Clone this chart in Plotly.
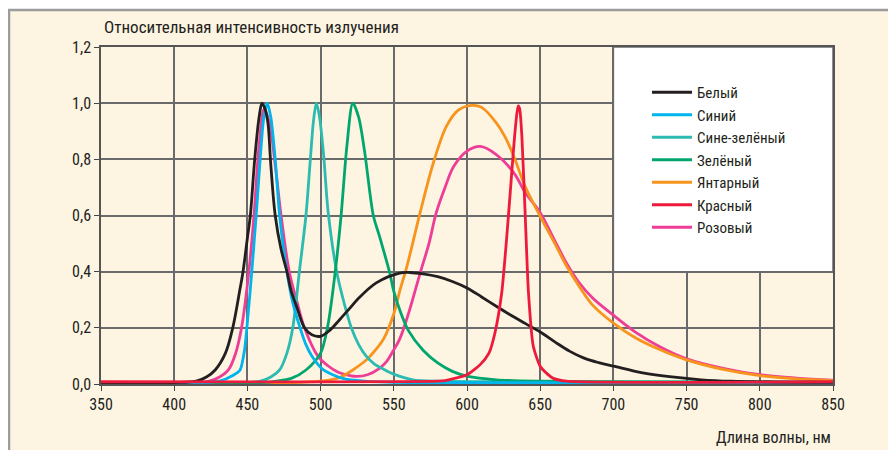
import plotly.graph_objects as go

# ---- data ----
names = ["Белый", "Синий", "Сине-зелёный", "Зелёный", "Янтарный", "Красный", "Розовый"]
colors = ["#231f20", "#00b4ec", "#2bbbb0", "#00a66e", "#f7941d", "#ed1a3b", "#ee3d96"]

white_x = [350, 400, 415, 422, 428, 435, 440, 445, 447, 450, 452, 455, 458, 460, 462, 464, 466, 469, 473, 477, 480, 484, 489, 494, 500, 506, 513, 520, 525, 538, 554, 561, 570, 580, 590, 600, 610, 620, 630, 640, 650, 660, 670, 680, 690, 700, 720, 740, 760, 780, 850]
white_y = [0.005, 0.005, 0.01, 0.025, 0.05, 0.11, 0.2, 0.34, 0.4, 0.52, 0.6, 0.8, 0.95, 1.0, 0.98, 0.93, 0.78, 0.6, 0.48, 0.4, 0.33, 0.27, 0.2, 0.175, 0.17, 0.19, 0.229, 0.27, 0.3, 0.36, 0.395, 0.397, 0.392, 0.382, 0.365, 0.342, 0.31, 0.277, 0.245, 0.215, 0.185, 0.15, 0.117, 0.092, 0.076, 0.064, 0.04, 0.025, 0.015, 0.01, 0.006]

blue_x = [350, 420, 431, 440, 445, 448, 450, 453, 456, 459, 461, 463.5, 466, 469, 472, 477, 481, 486, 490, 494, 502, 515, 530, 560, 850]
blue_y = [0.005, 0.005, 0.01, 0.03, 0.05, 0.12, 0.22, 0.4, 0.6, 0.82, 0.94, 1.0, 0.95, 0.8, 0.6, 0.4, 0.29, 0.2, 0.14, 0.1, 0.05, 0.02, 0.01, 0.005, 0.005]

teal_x = [350, 450, 459, 466, 472, 477, 481, 485.5, 490, 493, 495, 497, 499, 502, 505, 511, 516, 521, 526, 531, 537, 544, 550, 563, 580, 700, 850]
teal_y = [0.005, 0.005, 0.01, 0.025, 0.05, 0.11, 0.2, 0.4, 0.6, 0.8, 0.93, 1.0, 0.96, 0.82, 0.62, 0.4, 0.29, 0.2, 0.14, 0.1, 0.07, 0.05, 0.035, 0.015, 0.01, 0.007, 0.006]

green_x = [350, 460, 470, 480, 490, 500, 505, 510, 514, 518, 522, 526, 530, 536, 540, 547, 550, 555, 560, 570, 580, 590, 600, 620, 650, 700, 850]
green_y = [0.005, 0.005, 0.01, 0.02, 0.05, 0.11, 0.21, 0.4, 0.6, 0.85, 1.0, 0.95, 0.83, 0.6, 0.53, 0.4, 0.33, 0.25, 0.19, 0.12, 0.075, 0.045, 0.028, 0.015, 0.01, 0.008, 0.006]

amber_x = [350, 480, 500, 510, 515, 522, 530, 534, 543, 550, 554, 559, 568, 577, 586, 594, 600, 605, 610, 620, 626, 632, 640, 650, 660, 668, 677, 686, 700, 715, 732, 750, 775, 800, 825, 850]
amber_y = [0.005, 0.005, 0.01, 0.018, 0.028, 0.05, 0.08, 0.1, 0.16, 0.25, 0.33, 0.42, 0.61, 0.787, 0.918, 0.975, 0.99, 0.992, 0.985, 0.93, 0.88, 0.81, 0.7, 0.597, 0.5, 0.42, 0.345, 0.28, 0.217, 0.165, 0.122, 0.086, 0.052, 0.03, 0.018, 0.012]

red_x = [350, 580, 586, 600, 609, 615, 619, 623.7, 627, 629.5, 632, 634, 635, 636, 637.5, 639.7, 642, 645.3, 650, 655, 659, 668, 850]
red_y = [0.008, 0.01, 0.013, 0.033, 0.069, 0.11, 0.18, 0.324, 0.514, 0.68, 0.85, 0.96, 0.99, 0.98, 0.88, 0.61, 0.324, 0.134, 0.063, 0.035, 0.02, 0.01, 0.008]

pink_x = [350, 415, 424, 431, 437, 442, 446, 451, 454.5, 458, 461.5, 465, 469, 473, 478.6, 484, 489, 498, 505, 512, 520, 525, 532, 540, 545, 550, 554, 560, 568, 574, 579, 585, 591, 600, 609, 620, 632, 640, 650, 660, 668, 676, 686, 700, 715, 732, 750, 775, 800, 825, 850]
pink_y = [0.005, 0.005, 0.01, 0.025, 0.05, 0.11, 0.2, 0.4, 0.6, 0.85, 0.98, 0.93, 0.78, 0.6, 0.4, 0.29, 0.2, 0.1, 0.065, 0.042, 0.03, 0.027, 0.033, 0.055, 0.08, 0.122, 0.16, 0.25, 0.395, 0.5, 0.61, 0.7, 0.775, 0.829, 0.846, 0.817, 0.752, 0.68, 0.61, 0.51, 0.43, 0.365, 0.305, 0.245, 0.185, 0.132, 0.09, 0.056, 0.033, 0.021, 0.014]

series = [
    (white_x, white_y), (blue_x, blue_y), (teal_x, teal_y), (green_x, green_y),
    (amber_x, amber_y), (red_x, red_y), (pink_x, pink_y),
]
smooth = [1.0, 0.7, 0.7, 0.8, 1.0, 0.6, 1.0]

x_ticks = list(range(350, 851, 50))
y_ticks = [0.0, 0.2, 0.4, 0.6, 0.8, 1.0, 1.2]
y_title = "Относительная интенсивность излучения"
x_title = "Длина волны, нм"

# ---- figure ----
W, H = 896, 450
OFF = 8  # page body margin
L, R, T, B = 93, 71, 39, 74
pw, ph = W - L - R, H - T - B

def px_x(p):
    return (p - OFF - L) / pw

def px_y(p):
    return (H - B - (p - OFF)) / ph

FONT = "Liberation Sans Narrow, Roboto Condensed, DejaVu Sans Condensed, Roboto, sans-serif"

fig = go.Figure()
draw_order = [6, 4, 2, 3, 1, 0, 5]
for i in draw_order:
    xs, ys = series[i]
    fig.add_trace(go.Scatter(
        x=xs, y=ys, mode="lines", name=names[i],
        line=dict(color=colors[i], width=2.8, shape="spline", smoothing=smooth[i]),
        legendrank=i + 1,
    ))

# outer frame (cream panel with gray border)
fig.add_shape(type="rect", xref="paper", yref="paper", layer="below",
              x0=px_x(9), x1=px_x(W + 20), y0=px_y(10), y1=px_y(H + 20),
              fillcolor="#fdf4e2", line=dict(color="#9c9c9c", width=2.5))
# white legend panel covering grid
fig.add_shape(type="rect", xref="x", yref="y", layer="between",
              x0=700, x1=850, y0=0.4, y1=1.2,
              fillcolor="white", line=dict(color="#6a6a6a", width=1.5))

fig.add_annotation(text=y_title, xref="paper", yref="paper", x=px_x(102), y=px_y(27),
                   xanchor="left", yanchor="middle", showarrow=False,
                   font=dict(family=FONT, size=17, color="#231f20"))
fig.add_annotation(text=x_title, xref="paper", yref="paper", x=px_x(833), y=px_y(437),
                   xanchor="right", yanchor="middle", showarrow=False,
                   font=dict(family=FONT, size=16, color="#231f20"))

fig.update_layout(
    width=W, height=H,
    margin=dict(l=L, r=R, t=T, b=B),
    paper_bgcolor="white", plot_bgcolor="white",
    separators=", ",
    font=dict(family=FONT, size=16, color="#231f20"),
    showlegend=True,
    legend=dict(x=px_x(647), y=px_y(76), xanchor="left", yanchor="top",
                bgcolor="rgba(0,0,0,0)", borderwidth=0,
                font=dict(family=FONT, size=15, color="#231f20"),
                itemwidth=40, tracegroupgap=0),
)
fig.update_xaxes(range=[350, 850], tickvals=x_ticks, ticks="outside", ticklen=5,
                 tickcolor="#444", showgrid=True, gridcolor="#6a6a6a", gridwidth=1.5,
                 showline=True, linecolor="#555", linewidth=1.5, mirror=True,
                 zeroline=False, tickfont=dict(family=FONT, size=16, color="#231f20"))
fig.update_yaxes(range=[0, 1.2], tickvals=y_ticks, tickformat=".1f", ticks="outside",
                 ticklen=5, tickcolor="#444", showgrid=True, gridcolor="#6a6a6a",
                 gridwidth=1.5, showline=True, linecolor="#555", linewidth=1.5,
                 mirror=True, zeroline=False,
                 tickfont=dict(family=FONT, size=16, color="#231f20"))

fig.write_html("out.html")
